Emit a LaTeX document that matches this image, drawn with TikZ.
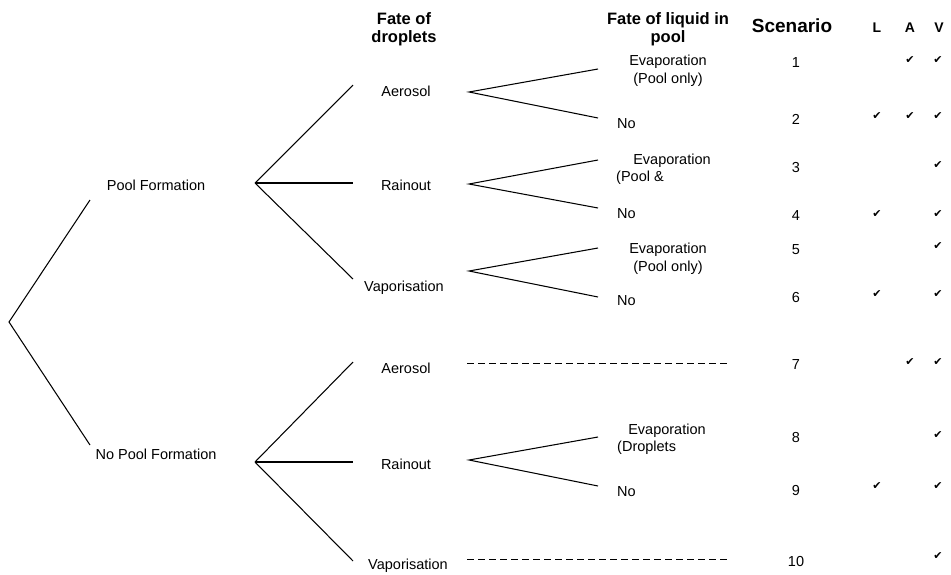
\documentclass[tikz,border=0pt]{standalone}
\usepackage{fontspec}
\setmainfont{Liberation Sans}
\newfontfamily\dv{DejaVu Sans}
\begin{document}
\begin{tikzpicture}[x=1pt,y=-1pt,
  lbl/.style={inner sep=0pt,font=\fontsize{14.5}{18}\selectfont,align=center},
  lbll/.style={inner sep=0pt,font=\fontsize{14.5}{18}\selectfont,anchor=west},
  head/.style={inner sep=0pt,font=\bfseries\fontsize{16.5}{18}\selectfont,align=center},
  num/.style={inner sep=0pt,font=\fontsize{14.5}{18}\selectfont},
  chk/.style={inner sep=0pt,font=\dv\fontsize{11}{12}\selectfont},
  br/.style={line width=1.05pt},
  dsh/.style={line width=0.9pt,dash pattern=on 7pt off 4pt}]
\useasboundingbox (0,0) rectangle (951,574);
% headings
\node[head] (h1) at (404,29.5) {Fate of\\droplets};
\node[head] (h2) at (668,29.5) {Fate of liquid in\\pool};
\node[head,font=\bfseries\fontsize{19}{20}\selectfont] (h3) at (792,26) {Scenario};
\node[head,font=\bfseries\fontsize{14}{16}\selectfont] (hl) at (877,28) {L};
\node[head,font=\bfseries\fontsize{14}{16}\selectfont] (ha) at (910,28) {A};
\node[head,font=\bfseries\fontsize{14}{16}\selectfont] (hv) at (939,28) {V};
% first level
\node[lbl] (pf) at (156,185) {Pool Formation};
\node[lbl] (npf) at (156,454) {No Pool Formation};
\coordinate (v0) at (9,322);
\coordinate (e1) at (90,200);
\coordinate (e2) at (90,445);
\draw[br] (e1) -- (v0) -- (e2);
% second level
\node[lbl] (a1) at (406,91) {Aerosol};
\node[lbl] (r1) at (406,185) {Rainout};
\node[lbl] (p1) at (404,288) {Vaporisation};
\node[lbl] (a2) at (406,368) {Aerosol};
\node[lbl] (r2) at (406,464) {Rainout};
\node[lbl] (p2) at (408,566) {Vaporisation};
\coordinate (vp) at (255,183);
\coordinate (vn) at (255,462);
\draw[br] (vp) -- (353,85);
\draw[br] (vp) -- (353,183);
\draw[br] (vp) -- (353,279);
\draw[br] (vn) -- (353,362);
\draw[br] (vn) -- (353,462);
\draw[br] (vn) -- (353,561);
% third level
\coordinate (va1) at (469,92);
\coordinate (vr1) at (469,184);
\coordinate (vp1) at (469,271);
\coordinate (vr2) at (469,460);
\draw[br] (598,69) -- (va1) -- (598,118);
\draw[br] (598,160) -- (vr1) -- (598,208);
\draw[br] (598,248) -- (vp1) -- (598,297);
\draw[br] (598,437) -- (vr2) -- (598,486);
\coordinate (da1) at (467,363);
\coordinate (da2) at (730,363);
\coordinate (db1) at (467,559);
\coordinate (db2) at (730,559);
\draw[dsh] (da1) -- (da2);
\draw[dsh] (db1) -- (db2);
\node[lbl] (ev1) at (668,71) {Evaporation\\(Pool only)};
\node[lbll] (no1) at (617,124) {No};
\node[lbl] (ev2) at (672,161) {Evaporation};
\node[lbll] (ev2b) at (616,178) {(Pool \&};
\node[lbll] (no2) at (617,214) {No};
\node[lbl] (ev3) at (668,259) {Evaporation\\(Pool only)};
\node[lbll] (no3) at (617,301) {No};
\node[lbl] (ev4) at (667,431) {Evaporation};
\node[lbll] (ev4b) at (617,448) {(Droplets};
\node[lbll] (no4) at (617,492) {No};
% scenario numbers
\node[num] (s1) at (796,63) {1};
\node[num] (s2) at (796,119) {2};
\node[num] (s3) at (796,168) {3};
\node[num] (s4) at (796,216) {4};
\node[num] (s5) at (796,250) {5};
\node[num] (s6) at (796,298) {6};
\node[num] (s7) at (796,365) {7};
\node[num] (s8) at (796,438) {8};
\node[num] (s9) at (796,490) {9};
\node[num] (s10) at (796,561) {10};
% checks
\node[chk] (c1a) at (910,60) {✔};
\node[chk] (c1v) at (938,60) {✔};
\node[chk] (c2l) at (877,116) {✔};
\node[chk] (c2a) at (910,116) {✔};
\node[chk] (c2v) at (938,116) {✔};
\node[chk] (c3v) at (938,165) {✔};
\node[chk] (c4l) at (877,214) {✔};
\node[chk] (c4v) at (938,214) {✔};
\node[chk] (c5v) at (938,246) {✔};
\node[chk] (c6l) at (877,294) {✔};
\node[chk] (c6v) at (938,294) {✔};
\node[chk] (c7a) at (910,362) {✔};
\node[chk] (c7v) at (938,362) {✔};
\node[chk] (c8v) at (938,435) {✔};
\node[chk] (c9l) at (877,486) {✔};
\node[chk] (c9v) at (938,486) {✔};
\node[chk] (c10v) at (938,556) {✔};
\end{tikzpicture}
\end{document}
